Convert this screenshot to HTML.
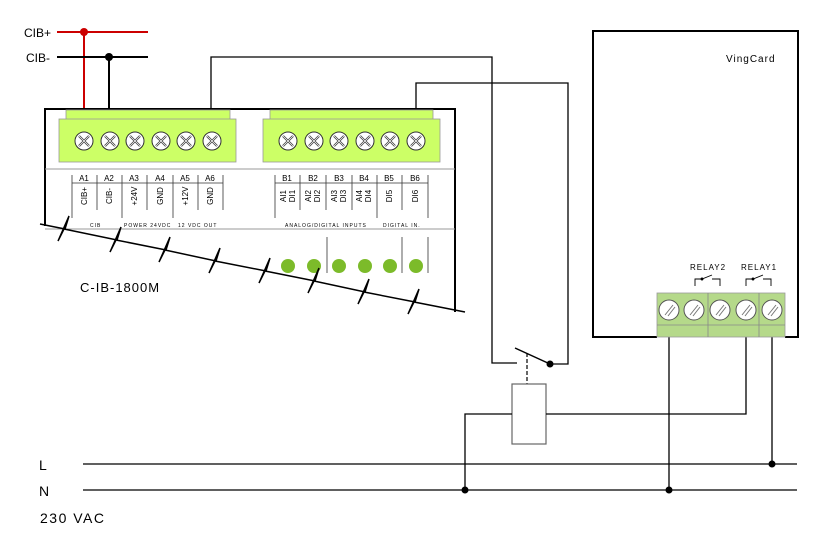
<!DOCTYPE html>
<html><head><meta charset="utf-8"><style>
html,body{margin:0;padding:0;background:#fff;}
svg{display:block;font-family:"Liberation Sans",sans-serif;}
</style></head><body>
<svg width="825" height="552" viewBox="0 0 825 552" xmlns="http://www.w3.org/2000/svg">
<defs>
<g id="sc"><circle r="9" fill="#fff" stroke="#333" stroke-width="1"/><path d="M-5,-5L5,5M-5,5L5,-5" stroke="#333" stroke-width="2.2"/><path d="M-5,-5L5,5M-5,5L5,-5" stroke="#fff" stroke-width="0.8"/></g>
<g id="sc2"><circle r="10" fill="#fff" stroke="#555" stroke-width="1"/><path d="M-4,5L4,-5M-1,6L6,-3" stroke="#777" stroke-width="1"/></g>
</defs>
<!-- CIB -->
<text x="24" y="37" font-size="12">CIB+</text>
<text x="26" y="62" font-size="12">CIB-</text>
<line x1="57" y1="32" x2="148" y2="32" stroke="#c00" stroke-width="2"/>
<line x1="84" y1="32" x2="84" y2="109" stroke="#c00" stroke-width="2"/>
<circle cx="84" cy="32" r="4" fill="#c00"/>
<line x1="57" y1="57" x2="148" y2="57" stroke="#000" stroke-width="2"/>
<line x1="109" y1="57" x2="109" y2="109" stroke="#000" stroke-width="2"/>
<circle cx="109" cy="57" r="4" fill="#000"/>
<!-- wires -->
<polyline points="211,109 211,57 492,57 492,363 517,363" fill="none" stroke="#000" stroke-width="1.3"/>
<polyline points="416,109 416,83 568,83 568,364 550,364" fill="none" stroke="#000" stroke-width="1.3"/>
<line x1="515" y1="348" x2="550" y2="364" stroke="#000" stroke-width="1.5"/>
<circle cx="550" cy="364" r="3.5" fill="#000"/>
<line x1="527" y1="353" x2="527" y2="384" stroke="#000" stroke-width="1.2" stroke-dasharray="4,2"/>
<rect x="512" y="384" width="34" height="60" fill="#fff" stroke="#666" stroke-width="1.2"/>
<polyline points="512,414 465,414 465,490" fill="none" stroke="#000" stroke-width="1.3"/>
<polyline points="546,414 746,414 746,337" fill="none" stroke="#000" stroke-width="1.3"/>
<line x1="669" y1="337" x2="669" y2="490" stroke="#000" stroke-width="1.3"/>
<line x1="772" y1="337" x2="772" y2="464" stroke="#000" stroke-width="1.3"/>
<line x1="83" y1="464" x2="797" y2="464" stroke="#000" stroke-width="1.3"/>
<line x1="83" y1="490" x2="797" y2="490" stroke="#000" stroke-width="1.3"/>
<circle cx="465" cy="490" r="3.5"/><circle cx="669" cy="490" r="3.5"/><circle cx="772" cy="464" r="3.5"/>
<text x="39" y="470" font-size="14">L</text>
<text x="39" y="496" font-size="14">N</text>
<text x="40" y="523" font-size="14" letter-spacing="1.5">230 VAC</text>
<!-- module -->
<polyline points="45,226 45,109 455,109 455,312" fill="none" stroke="#000" stroke-width="2"/>
<line x1="45" y1="169" x2="455" y2="169" stroke="#999" stroke-width="1"/>
<line x1="45" y1="229" x2="455" y2="229" stroke="#999" stroke-width="1"/>
<rect x="66" y="110" width="164" height="10" fill="#ccff66" stroke="#999" stroke-width="0.8"/>
<rect x="59" y="119" width="177" height="43" fill="#ccff66" stroke="#999" stroke-width="0.8"/>
<rect x="270" y="110" width="163" height="10" fill="#ccff66" stroke="#999" stroke-width="0.8"/>
<rect x="263" y="119" width="177" height="43" fill="#ccff66" stroke="#999" stroke-width="0.8"/>
<use href="#sc" x="84" y="141"/><use href="#sc" x="110" y="141"/><use href="#sc" x="135" y="141"/><use href="#sc" x="161" y="141"/><use href="#sc" x="186" y="141"/><use href="#sc" x="212" y="141"/>
<use href="#sc" x="288" y="141"/><use href="#sc" x="314" y="141"/><use href="#sc" x="339" y="141"/><use href="#sc" x="365" y="141"/><use href="#sc" x="390" y="141"/><use href="#sc" x="416" y="141"/>
<g stroke="#333" stroke-width="0.8">
<line x1="72" y1="183" x2="223" y2="183"/><line x1="275" y1="183" x2="428" y2="183"/>
<line x1="72" y1="175" x2="72" y2="218"/><line x1="97" y1="175" x2="97" y2="210"/><line x1="122" y1="175" x2="122" y2="218"/><line x1="147" y1="175" x2="147" y2="210"/><line x1="173" y1="175" x2="173" y2="218"/><line x1="198" y1="175" x2="198" y2="210"/><line x1="223" y1="175" x2="223" y2="210"/>
<line x1="275" y1="175" x2="275" y2="218"/><line x1="300" y1="175" x2="300" y2="210"/><line x1="326" y1="175" x2="326" y2="210"/><line x1="352" y1="175" x2="352" y2="210"/><line x1="377" y1="175" x2="377" y2="218"/><line x1="402" y1="175" x2="402" y2="210"/><line x1="428" y1="175" x2="428" y2="218"/>
<line x1="327" y1="237" x2="327" y2="273"/><line x1="402" y1="237" x2="402" y2="273"/><line x1="428" y1="237" x2="428" y2="273"/>
</g>
<g font-size="8" text-anchor="middle">
<text x="84" y="181">A1</text><text x="109" y="181">A2</text><text x="134" y="181">A3</text><text x="160" y="181">A4</text><text x="185" y="181">A5</text><text x="210" y="181">A6</text>
<text x="287" y="181">B1</text><text x="313" y="181">B2</text><text x="339" y="181">B3</text><text x="364" y="181">B4</text><text x="389" y="181">B5</text><text x="415" y="181">B6</text>
</g>
<g font-size="8" text-anchor="middle">
<text transform="translate(87,196) rotate(-90)">CIB+</text>
<text transform="translate(112,196) rotate(-90)">CIB-</text>
<text transform="translate(137,196) rotate(-90)">+24V</text>
<text transform="translate(163,196) rotate(-90)">GND</text>
<text transform="translate(188,196) rotate(-90)">+12V</text>
<text transform="translate(213,196) rotate(-90)">GND</text>
<text transform="translate(286,196) rotate(-90)">AI1</text><text transform="translate(295,196) rotate(-90)">DI1</text>
<text transform="translate(311,196) rotate(-90)">AI2</text><text transform="translate(320,196) rotate(-90)">DI2</text>
<text transform="translate(337,196) rotate(-90)">AI3</text><text transform="translate(346,196) rotate(-90)">DI3</text>
<text transform="translate(362,196) rotate(-90)">AI4</text><text transform="translate(371,196) rotate(-90)">DI4</text>
<text transform="translate(392,196) rotate(-90)">DI5</text>
<text transform="translate(418,196) rotate(-90)">DI6</text>
</g>
<g font-size="5" letter-spacing="1">
<text x="90" y="227">CIB</text><text x="124" y="227">POWER 24VDC</text><text x="178" y="227">12 VDC OUT</text>
<text x="285" y="227">ANALOG/DIGITAL INPUTS</text><text x="383" y="227">DIGITAL IN.</text>
</g>
<rect x="40" y="230" width="420" height="90" fill="#fff" transform="skewY(12) translate(0,-12)" opacity="0"/>
<g fill="#7cbb2a"><circle cx="288" cy="266" r="7"/><circle cx="314" cy="266" r="7"/><circle cx="339" cy="266" r="7"/><circle cx="365" cy="266" r="7"/><circle cx="390" cy="266" r="7"/><circle cx="416" cy="266" r="7"/></g>
<polyline fill="none" stroke="#000" stroke-width="1.5" points="40,224 65,229 69,216 58,241 64,229 117,240 121,227 110,252 116,240 166,250 170,237 159,262 165,250 216,261 220,248 209,273 215,261 266,271 270,258 259,283 265,271 315,281 319,268 308,293 314,281 365,292 369,279 358,304 364,292 415,302 419,289 408,314 414,302 465,312"/>
<text x="80" y="292" font-size="13" letter-spacing="1">C-IB-1800M</text>
<!-- VingCard -->
<polyline points="657,337 593,337 593,31 798,31 798,337 785,337" fill="none" stroke="#000" stroke-width="2"/>
<text x="726" y="62" font-size="10" letter-spacing="1">VingCard</text>
<text x="690" y="270" font-size="8" letter-spacing="1">RELAY2</text>
<text x="741" y="270" font-size="8" letter-spacing="1">RELAY1</text>
<g fill="none" stroke="#000" stroke-width="0.9">
<polyline points="695,286 695,279 702,279 712,275"/><polyline points="712,279 720,279 720,286"/><circle cx="702" cy="279" r="1" fill="#000"/>
<polyline points="746,286 746,279 753,279 763,275"/><polyline points="763,279 771,279 771,286"/><circle cx="753" cy="279" r="1" fill="#000"/>
</g>
<rect x="657" y="293" width="128" height="44" fill="#b5d98a" stroke="#999" stroke-width="0.8"/>
<line x1="657" y1="325" x2="785" y2="325" stroke="#888" stroke-width="0.8"/>
<line x1="708" y1="293" x2="708" y2="337" stroke="#888" stroke-width="0.8"/>
<line x1="759" y1="293" x2="759" y2="337" stroke="#888" stroke-width="0.8"/>
<use href="#sc2" x="669" y="310"/><use href="#sc2" x="694" y="310"/><use href="#sc2" x="720" y="310"/><use href="#sc2" x="746" y="310"/><use href="#sc2" x="772" y="310"/>
</svg>
</body></html>
